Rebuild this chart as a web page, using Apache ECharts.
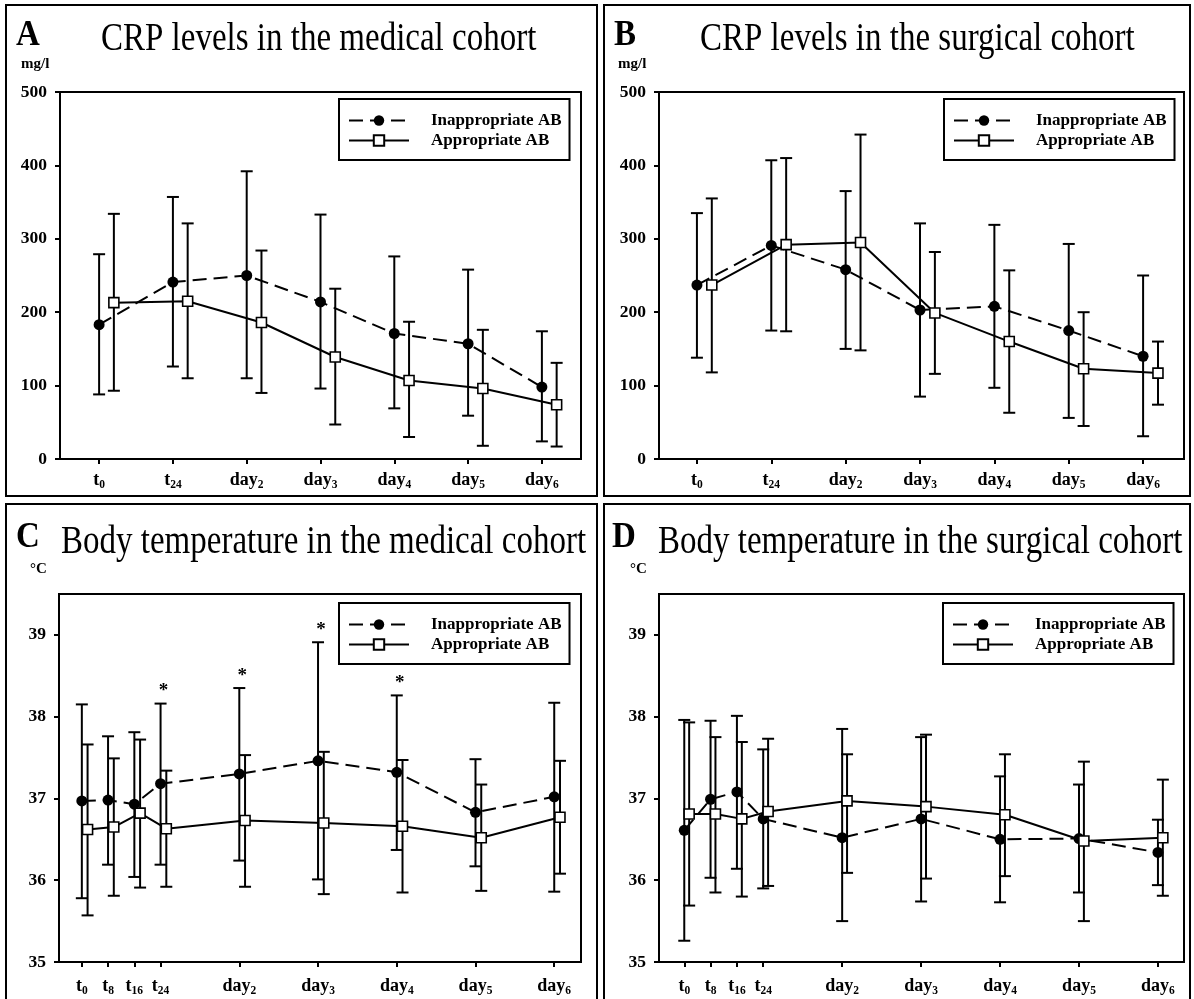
<!DOCTYPE html>
<html>
<head>
<meta charset="utf-8">
<script src="https://cdn.jsdelivr.net/npm/echarts@6/dist/echarts.min.js"></script>
<style>
html,body{margin:0;padding:0;background:#fff;}
#c{width:1194px;height:999px;}
</style>
</head>
<body>
<div id="c"></div>
<script>
// ---------------- DATA ----------------
const seriesNames = ['Inappropriate AB', 'Appropriate AB'];

// CRP panels (A, B): time points
const crpPos = [0, 1, 2, 3, 4, 5, 6];
const crpTickBase = ['t', 't', 'day', 'day', 'day', 'day', 'day'];
const crpTickSub = ['0', '24', '2', '3', '4', '5', '6'];
const crpYTicks = [0, 100, 200, 300, 400, 500];

// Temperature panels (C, D): time points in days
const tempPos = [0, 0.333, 0.667, 1, 2, 3, 4, 5, 6];
const tempTickBase = ['t', 't', 't', 't', 'day', 'day', 'day', 'day', 'day'];
const tempTickSub = ['0', '8', '16', '24', '2', '3', '4', '5', '6'];
const tempYTicks = [35, 36, 37, 38, 39];

// A: CRP, medical cohort (mg/l)
const aInappMean = [183, 241, 250, 214, 171, 157, 98];
const aInappLow  = [88, 126, 110, 96, 69, 59, 24];
const aInappHigh = [279, 357, 392, 333, 276, 258, 174];
const aAppMean   = [213, 215, 186, 139, 107, 96, 74];
const aAppLow    = [93, 110, 90, 47, 30, 18, 17];
const aAppHigh   = [334, 321, 284, 232, 187, 176, 131];

// B: CRP, surgical cohort (mg/l)
const bInappMean = [237, 291, 258, 203, 208, 175, 140];
const bInappLow  = [138, 175, 150, 85, 97, 56, 31];
const bInappHigh = [335, 407, 365, 321, 319, 293, 250];
const bAppMean   = [237, 292, 295, 199, 160, 123, 117];
const bAppLow    = [118, 174, 148, 116, 63, 45, 74];
const bAppHigh   = [355, 410, 442, 282, 257, 200, 160];

// C: body temperature, medical cohort (°C)
const cInappMean = [36.97, 36.98, 36.93, 37.18, 37.30, 37.46, 37.32, 36.83, 37.02];
const cInappLow  = [35.78, 36.19, 36.04, 36.19, 36.24, 36.01, 36.37, 36.17, 35.86];
const cInappHigh = [38.15, 37.76, 37.81, 38.16, 38.35, 38.91, 38.26, 37.48, 38.17];
const cAppMean   = [36.62, 36.65, 36.82, 36.63, 36.73, 36.70, 36.66, 36.52, 36.77];
const cAppLow    = [35.57, 35.81, 35.91, 35.92, 35.92, 35.83, 35.85, 35.87, 36.08];
const cAppHigh   = [37.66, 37.49, 37.72, 37.34, 37.53, 37.57, 37.47, 37.17, 37.46];
const cSignificant = [0, 0, 0, 1, 1, 1, 1, 0, 0];

// D: body temperature, surgical cohort (°C)
const dInappMean = [36.61, 36.99, 37.08, 36.75, 36.52, 36.75, 36.50, 36.51, 36.34];
const dInappLow  = [35.26, 36.03, 36.14, 35.90, 35.50, 35.74, 35.73, 35.85, 35.94];
const dInappHigh = [37.96, 37.95, 38.01, 37.60, 37.85, 37.75, 37.27, 37.17, 36.74];
const dAppMean   = [36.81, 36.81, 36.75, 36.84, 36.97, 36.90, 36.80, 36.48, 36.52];
const dAppLow    = [35.69, 35.85, 35.80, 35.93, 36.09, 36.02, 36.05, 35.50, 35.81];
const dAppHigh   = [37.93, 37.75, 37.69, 37.73, 37.54, 37.78, 37.54, 37.45, 37.23];

// ---------------- LAYOUT / STYLE ----------------
const FONT = '"Liberation Serif", "Times New Roman", Times, serif';

const panels = [
  { grid: {left: 60, top: 92, width: 521, height: 367}, xr: [-0.53, 6.53], yr: [0, 500], yTicks: crpYTicks,
    pos: crpPos, base: crpTickBase, sub: crpTickSub, off: 0.2, labelMargin: 11,
    inapp: [aInappMean, aInappLow, aInappHigh], app: [aAppMean, aAppLow, aAppHigh],
    legend: {left: 339, top: 99}, stars: null },
  { grid: {left: 659, top: 92, width: 525, height: 367}, xr: [-0.51, 6.55], yr: [0, 500], yTicks: crpYTicks,
    pos: crpPos, base: crpTickBase, sub: crpTickSub, off: 0.2, labelMargin: 11,
    inapp: [bInappMean, bInappLow, bInappHigh], app: [bAppMean, bAppLow, bAppHigh],
    legend: {left: 944, top: 99}, stars: null },
  { grid: {left: 59, top: 594, width: 522, height: 368}, xr: [-0.29, 6.34], yr: [35, 39.5], yTicks: tempYTicks,
    pos: tempPos, base: tempTickBase, sub: tempTickSub, off: 0.073, labelMargin: 14,
    inapp: [cInappMean, cInappLow, cInappHigh], app: [cAppMean, cAppLow, cAppHigh],
    legend: {left: 339, top: 603}, stars: cSignificant },
  { grid: {left: 659, top: 594, width: 525, height: 368}, xr: [-0.32, 6.33], yr: [35, 39.5], yTicks: tempYTicks,
    pos: tempPos, base: tempTickBase, sub: tempTickSub, off: 0.062, labelMargin: 14,
    inapp: [dInappMean, dInappLow, dInappHigh], app: [dAppMean, dAppLow, dAppHigh],
    legend: {left: 943, top: 603}, stars: null }
];

const CAP = 12;
function errRender(params, api) {
  const x = api.value(0), lo = api.value(1), hi = api.value(2);
  const pLo = api.coord([x, lo]), pHi = api.coord([x, hi]);
  const hw = CAP / 2;
  const style = {stroke: '#000', lineWidth: 2};
  return {
    type: 'group',
    children: [
      {type: 'line', shape: {x1: pLo[0], y1: pLo[1], x2: pHi[0], y2: pHi[1]}, style: style},
      {type: 'line', shape: {x1: pHi[0] - hw, y1: pHi[1], x2: pHi[0] + hw, y2: pHi[1]}, style: style},
      {type: 'line', shape: {x1: pLo[0] - hw, y1: pLo[1], x2: pLo[0] + hw, y2: pLo[1]}, style: style}
    ]
  };
}
function starRender(params, api) {
  const x = api.value(0), hi = api.value(1);
  const p = api.coord([x, hi]);
  return {
    type: 'text',
    x: p[0] + 3, y: p[1] - 12,
    style: {text: '*', font: 'bold 19px ' + FONT, fill: '#000', align: 'center', verticalAlign: 'middle'}
  };
}

const grids = [], xAxes = [], yAxes = [], series = [], legends = [];
panels.forEach((pn, k) => {
  grids.push(Object.assign({show: true, borderColor: '#000', borderWidth: 2, backgroundColor: 'transparent'}, pn.grid));
  const fmt = (v) => {
    const i = pn.pos.findIndex(p => Math.abs(p - v) < 1e-3);
    return i < 0 ? '' : '{m|' + pn.base[i] + '}{s|' + pn.sub[i] + '}';
  };
  xAxes.push({
    type: 'value', gridIndex: k, min: pn.xr[0], max: pn.xr[1],
    axisLine: {show: true, onZero: false, lineStyle: {color: '#000', width: 2}},
    axisTick: {show: true, inside: false, length: 5, lineStyle: {color: '#000', width: 2}, customValues: pn.pos},
    axisLabel: {
      show: true, margin: pn.labelMargin, customValues: pn.pos, formatter: fmt,
      rich: {
        m: {fontFamily: FONT, fontWeight: 'bold', fontSize: 18, color: '#000', lineHeight: 20},
        s: {fontFamily: FONT, fontWeight: 'bold', fontSize: 11.5, color: '#000', lineHeight: 12, padding: [10, 0, 0, 0]}
      }
    },
    splitLine: {show: false}
  });
  yAxes.push({
    type: 'value', gridIndex: k, min: pn.yr[0], max: pn.yr[1],
    axisLine: {show: true, onZero: false, lineStyle: {color: '#000', width: 2}},
    axisTick: {show: true, inside: false, length: 5, lineStyle: {color: '#000', width: 2}, customValues: pn.yTicks},
    axisLabel: {show: true, margin: 13, customValues: pn.yTicks, fontFamily: FONT, fontWeight: 'bold', fontSize: 17.5, color: '#000'},
    splitLine: {show: false}
  });
  const inData = pn.pos.map((p, i) => [p, pn.inapp[0][i]]);
  const apData = pn.pos.map((p, i) => [p + pn.off, pn.app[0][i]]);
  const inErr = pn.pos.map((p, i) => [p, pn.inapp[1][i], pn.inapp[2][i]]);
  const apErr = pn.pos.map((p, i) => [p + pn.off, pn.app[1][i], pn.app[2][i]]);
  series.push({
    type: 'custom', xAxisIndex: k, yAxisIndex: k, renderItem: errRender, data: inErr,
    encode: {x: 0, y: [1, 2]}, z: 2, silent: true
  });
  series.push({
    type: 'custom', xAxisIndex: k, yAxisIndex: k, renderItem: errRender, data: apErr,
    encode: {x: 0, y: [1, 2]}, z: 2, silent: true
  });
  series.push({
    name: seriesNames[0], type: 'line', xAxisIndex: k, yAxisIndex: k, data: inData,
    symbol: 'circle', symbolSize: 11, showSymbol: true,
    lineStyle: {color: '#000', width: 2, type: [14, 7]},
    itemStyle: {color: '#000', borderColor: '#000', borderWidth: 0}, z: 4
  });
  series.push({
    name: seriesNames[1], type: 'line', xAxisIndex: k, yAxisIndex: k, data: apData,
    symbol: 'rect', symbolSize: 10, showSymbol: true,
    lineStyle: {color: '#000', width: 2, type: 'solid'},
    itemStyle: {color: '#fff', borderColor: '#000', borderWidth: 1.6}, z: 5
  });
  if (pn.stars) {
    const starData = pn.pos.map((p, i) => [p, pn.inapp[2][i]]).filter((d, i) => pn.stars[i]);
    series.push({
      type: 'custom', xAxisIndex: k, yAxisIndex: k, renderItem: starRender, data: starData,
      encode: {x: 0, y: 1}, z: 6, silent: true
    });
  }
  legends.push({
    orient: 'vertical', left: pn.legend.left, top: pn.legend.top,
    data: seriesNames, selectedMode: false,
    itemWidth: 60, itemHeight: 13, itemGap: 3,
    padding: [13, 8, 11, 9],
    borderColor: '#000', borderWidth: 2, backgroundColor: '#fff',
    textStyle: {fontFamily: FONT, fontWeight: 'bold', fontSize: 17, color: '#000', lineHeight: 16, padding: [0, 0, 0, 17]}
  });
});

function txt(x, y, text, font, sy, align) {
  return {type: 'text', x: x, y: y, scaleY: sy || 1, z: 10,
    style: {text: text, font: font, fill: '#000', align: align || 'left', verticalAlign: 'middle'}};
}
const letterFont = 'bold 33px ' + FONT;
const titleFont = '33px ' + FONT;
const unitFont = 'bold 15px ' + FONT;

const graphics = [
  {type: 'rect', shape: {x: 6, y: 5, width: 591, height: 491}, style: {fill: 'none', stroke: '#000', lineWidth: 2}, z: 1},
  {type: 'rect', shape: {x: 604, y: 5, width: 586, height: 491}, style: {fill: 'none', stroke: '#000', lineWidth: 2}, z: 1},
  {type: 'rect', shape: {x: 6, y: 504, width: 591, height: 510}, style: {fill: 'none', stroke: '#000', lineWidth: 2}, z: 1},
  {type: 'rect', shape: {x: 604, y: 504, width: 586, height: 510}, style: {fill: 'none', stroke: '#000', lineWidth: 2}, z: 1},
  txt(16, 36, 'A', letterFont, 1.1),
  txt(614, 36, 'B', letterFont, 1.1),
  txt(16, 538, 'C', letterFont, 1.1),
  txt(612, 538, 'D', letterFont, 1.1),
  txt(101, 40, 'CRP levels in the medical cohort', titleFont, 1.2),
  txt(700, 40, 'CRP levels in the surgical cohort', titleFont, 1.2),
  txt(61, 543, 'Body temperature in the medical cohort', titleFont, 1.2),
  txt(658, 543, 'Body temperature in the surgical cohort', titleFont, 1.2),
  txt(21, 64, 'mg/l', unitFont),
  txt(618, 64, 'mg/l', unitFont),
  txt(30, 569, '°C', unitFont),
  txt(630, 569, '°C', unitFont)
];

const chart = echarts.init(document.getElementById('c'), null, {renderer: 'canvas'});
chart.setOption({
  backgroundColor: '#fff',
  animation: false,
  grid: grids,
  xAxis: xAxes,
  yAxis: yAxes,
  legend: legends,
  series: series,
  graphic: graphics
});
</script>
</body>
</html>
